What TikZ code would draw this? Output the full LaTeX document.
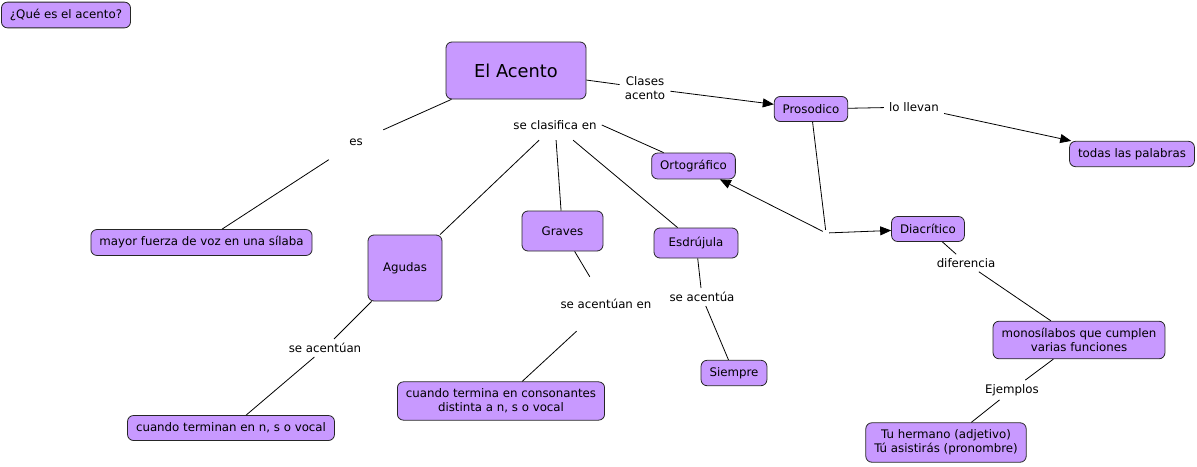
\documentclass[tikz,border=0pt]{standalone}
\usepackage{fontspec}
\setmainfont{DejaVu Sans}
\usetikzlibrary{arrows.meta}
\definecolor{conceptfill}{RGB}{200,153,255}

\begin{document}
\begin{tikzpicture}[x=1pt, y=-1pt,
		concept/.style={draw=black!85, fill=conceptfill, rounded corners=6pt, line width=0.8pt, inner xsep=8.5pt, inner ysep=7pt, minimum height=25pt, align=center, font=\fontsize{11.8}{14}\selectfont},
		linkword/.style={inner xsep=5pt, inner ysep=4pt, align=center, font=\fontsize{11.8}{14}\selectfont},
		conn/.style={line width=0.8pt},
		arr/.style={line width=0.8pt, -{Triangle[length=11pt, width=9pt]}}]
		\useasboundingbox (0, 0) rectangle (1197, 466);

		\node [concept] (que) at (66, 15) {¿Qué es el acento?};
		\node [concept, minimum width=140pt, minimum height=57pt, font=\fontsize{17.8}{21}\selectfont] (acento) at (516, 70.5) {El Acento};
		\node [concept] (proso) at (811, 109) {Prosodico};
		\node [concept] (todas) at (1132, 154) {todas las palabras};
		\node [concept] (orto) at (693.5, 166) {Ortográfico};
		\node [concept] (diacr) at (928, 229) {Diacrítico};
		\node [concept] (mayor) at (201.5, 242.5) {mayor fuerza de voz en una sílaba};
		\node [concept, minimum width=74pt, minimum height=66pt] (agudas) at (405, 268) {Agudas};
		\node [concept, minimum width=81pt, minimum height=40pt] (graves) at (562.5, 231) {Graves};
		\node [concept, minimum width=84pt, minimum height=30pt] (esdru) at (696, 243) {Esdrújula};
		\node [concept] (siempre) at (734, 373) {Siempre};
		\node [concept] (consonantes) at (501, 401) {cuando termina en consonantes\\distinta a n, s o vocal};
		\node [concept] (terminan) at (231, 428) {cuando terminan en n, s o vocal};
		\node [concept] (monos) at (1079, 340) {monosílabos que cumplen\\varias funciones};
		\node [concept] (ejemplo) at (946, 442.5) {Tu hermano (adjetivo)\\Tú asistirás (pronombre)};

		\node [linkword, minimum width=54pt, minimum height=36pt] (es) at (356, 142) {es};
		\node [linkword, minimum height=30pt] (clasifica) at (555, 125) {se clasifica en};
		\node [linkword] (clases) at (645, 88) {Clases\\acento};
		\node [linkword] (llevan) at (914, 107) {lo llevan};
		\node [linkword] (acentuan) at (325, 348) {se acentúan};
		\node [linkword, minimum height=54pt] (acentuanen) at (606, 304) {se acentúan en};
		\node [linkword] (acentua) at (702, 297) {se acentúa};
		\node [linkword] (diferencia) at (966, 263) {diferencia};
		\node [linkword] (ejemplos) at (1012, 390) {Ejemplos};
		\node [inner sep=3pt] (cruce) at (826, 233) {};

		\draw [conn] (acento) -- (es);
		\draw [conn] (es) -- (mayor);
		\draw [conn] (clasifica) -- (agudas);
		\draw [conn] (clasifica) -- (graves);
		\draw [conn] (clasifica) -- (esdru);
		\draw [conn] (clasifica.east) -- (orto);
		\draw [conn] (acento) -- (clases);
		\draw [arr] (clases) -- (proso);
		\draw [conn] (proso) -- (llevan);
		\draw [arr] (llevan) -- (todas);
		\draw [conn] (proso) -- (cruce);
		\draw [arr] (cruce) -- (orto);
		\draw [arr] (cruce) -- (diacr);
		\draw [conn] (diacr) -- (diferencia);
		\draw [conn] (diferencia) -- (monos);
		\draw [conn] (monos) -- (ejemplos);
		\draw [conn] (ejemplos) -- (ejemplo);
		\draw [conn] (agudas) -- (acentuan);
		\draw [conn] (acentuan) -- (terminan);
		\draw [conn] (graves) -- (acentuanen);
		\draw [conn] (acentuanen) -- (consonantes);
		\draw [conn] (esdru) -- (acentua);
		\draw [conn] (acentua) -- (siempre);
	\end{tikzpicture}
\end{document}
